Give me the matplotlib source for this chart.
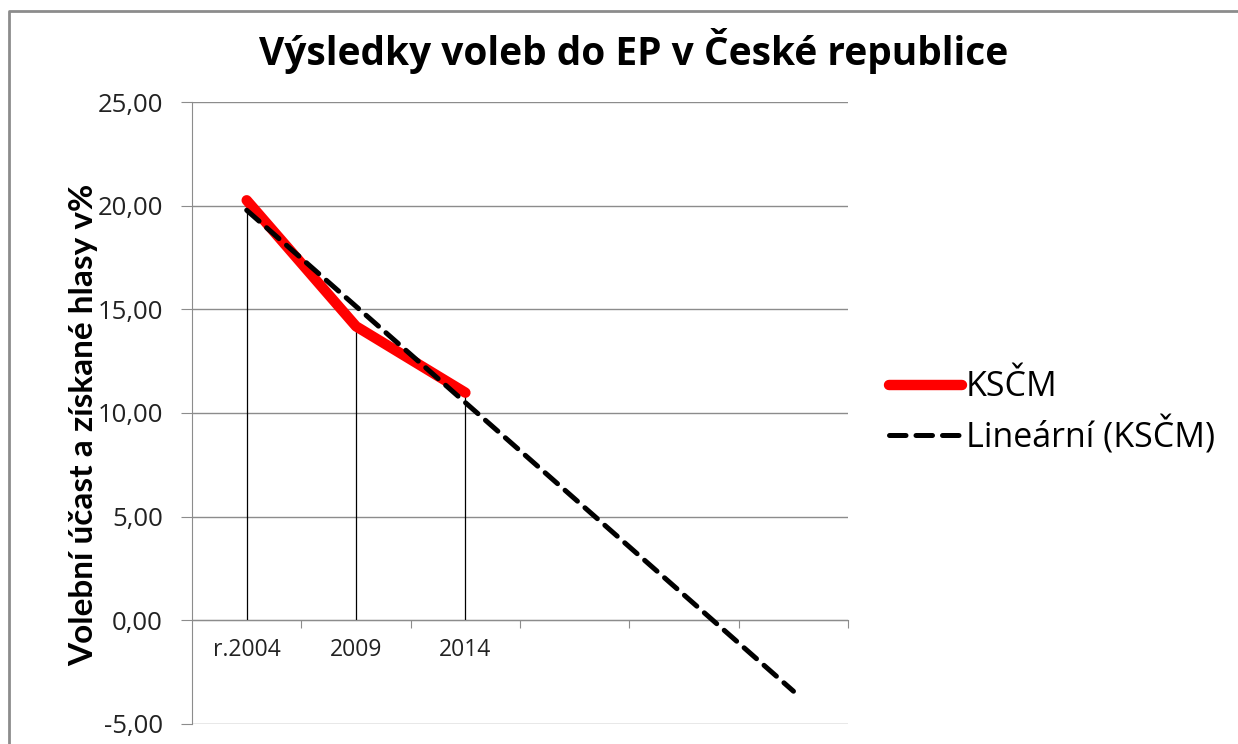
import numpy as np
import matplotlib.pyplot as plt
from matplotlib.lines import Line2D

# data
years = ["r.2004", "2009", "2014"]
kscm = [20.26, 14.18, 10.98]
forecast_periods = 3

plt.rcParams["font.family"] = ["Open Sans", "DejaVu Sans"]

fig = plt.figure(figsize=(12.38, 7.44), dpi=100)
ax = fig.add_axes([0.1551, 0.0269, 0.530, 0.836])

x = np.arange(1, len(kscm) + 1)
coef = np.polyfit(x, kscm, 1)
xt = np.array([1, len(kscm) + forecast_periods])
n_cat = len(kscm) + forecast_periods

# svislé spojnice od bodů k nule
ax.vlines(x, 0, kscm, color="black", linewidth=0.9, zorder=2)
ax.plot(x, kscm, color="#ff0000", linewidth=7.5, solid_capstyle="round",
        solid_joinstyle="round", label="KSČM", zorder=3)
ax.plot(xt, np.polyval(coef, xt), color="black", linewidth=3.6,
        dashes=(3.3, 2.0), dash_capstyle="round", label="Lineární (KSČM)", zorder=4)

ax.set_xlim(0.5, n_cat + 0.5)
ax.set_ylim(-5, 25)
yt = np.arange(-5, 26, 5)
ax.set_yticks(yt)
ax.set_yticklabels([f"{v:.2f}".replace(".", ",") for v in yt])
ax.yaxis.grid(True, color="#8c8c8c", linewidth=1.0)
ax.set_axisbelow(True)

ax.set_xticks(np.arange(1.5, n_cat + 0.6, 1.0))
ax.set_xticklabels([])
ax.set_xticks(x, minor=True)
ax.set_xticklabels(years, minor=True)
ax.tick_params(axis="x", which="minor", length=0, pad=13, labelsize=16.5,
               labelcolor="#222222")
ax.tick_params(axis="x", which="major", length=6, color="#8c8c8c", direction="out")
ax.tick_params(axis="y", length=8, color="#8c8c8c", pad=13, labelsize=18.5,
               labelcolor="#222222")

for s in ["top", "right"]:
    ax.spines[s].set_visible(False)
ax.spines["left"].set_color("#8c8c8c")
ax.spines["bottom"].set_color("#8c8c8c")
ax.spines["bottom"].set_position(("data", 0))

ax.set_ylabel("Volební účast a získané hlasy v%", fontsize=24, fontweight="bold",
              family=["Lato", "DejaVu Sans"])
ax.yaxis.set_label_coords(-0.143, 0.481)

fig.text(0.512, 1 - 51 / 744, "Výsledky voleb do EP v České republice",
         ha="center", va="center", fontsize=28, fontweight="bold")

fig.legend(loc="center left", bbox_to_anchor=(0.6935, 0.445), frameon=False,
           fontsize=24.5, handlelength=2.15, handletextpad=0.1, labelspacing=0.35)

# rámeček grafu (jen horní a levá hrana jsou vidět)
fig.lines.append(Line2D([9 / 1238, 9 / 1238, 1.0], [0, 1 - 11 / 744, 1 - 11 / 744],
                        transform=fig.transFigure, color="#8c8c8c", linewidth=2))

fig.savefig("out.png", dpi=100)
